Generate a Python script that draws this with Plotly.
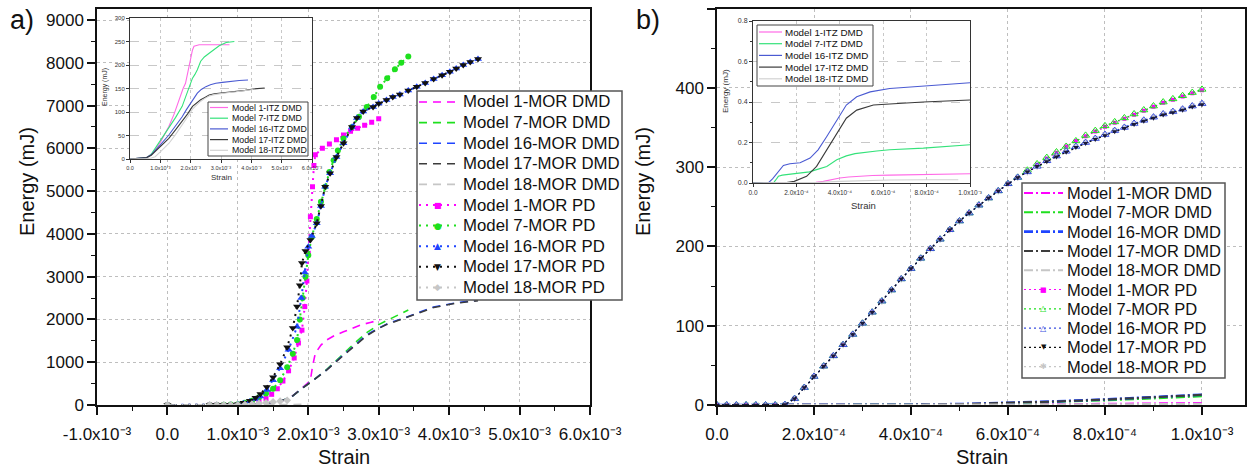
import plotly.graph_objects as go

W, H = 1253, 472
FONT = "Liberation Sans, Arial, sans-serif"
SYM_FONT = "DejaVu Sans"

# ================= DATA (strain in units of 1e-3, energy in mJ) =================
# ---- Panel a, MOR, DMD (dashed) ----
a_dmd_m1_s = [0.0, 0.5, 1.0, 1.2, 1.4, 1.6, 1.74, 1.88, 1.97, 2.03, 2.06, 2.1, 2.18, 2.26, 2.38, 2.5, 2.62, 2.74, 2.88, 3.02]
a_dmd_m1_e = [0, 0, 5, 15, 30, 80, 160, 350, 480, 580, 900, 1210, 1400, 1520, 1630, 1710, 1790, 1870, 1930, 1990]
a_dmd_m7_s = [0.0, 0.5, 1.0, 1.2, 1.4, 1.55, 1.74, 1.88, 2.07, 2.26, 2.45, 2.64, 2.83, 3.0, 3.11, 3.25, 3.42]
a_dmd_m7_e = [0, 0, 5, 15, 40, 80, 160, 350, 580, 830, 1120, 1420, 1690, 1880, 1970, 2090, 2220]
a_dmd_m16_s = [0.0, 0.5, 1.0, 1.2, 1.4, 1.55, 1.74, 1.88, 2.07, 2.26, 2.45, 2.64, 2.83, 3.0, 3.11, 3.4, 3.78, 4.1, 4.41]
a_dmd_m16_e = [0, 0, 5, 15, 40, 80, 160, 350, 580, 820, 1100, 1380, 1640, 1800, 1890, 2060, 2290, 2390, 2450]
a_dmd_m17_s = [0.0, 0.5, 1.0, 1.2, 1.4, 1.55, 1.74, 1.88, 2.07, 2.26, 2.45, 2.64, 2.83, 3.0, 3.11, 3.4, 3.78, 4.1, 4.41]
a_dmd_m17_e = [0, 0, 5, 15, 40, 80, 160, 350, 575, 815, 1090, 1360, 1620, 1790, 1880, 2050, 2280, 2380, 2440]
a_dmd_m18_s = [0.0, 0.5, 1.0, 1.4, 1.7, 2.0]
a_dmd_m18_e = [0, 0, 0, 5, 10, 20]

# ---- Panel a, MOR, PD (dotted + markers) ----
a_pd_m1_s = [0.0, 0.6, 0.7, 0.8, 0.9, 1.0, 1.1, 1.2, 1.3, 1.4, 1.48, 1.56, 1.64, 1.72, 1.8, 1.86, 1.91, 1.95, 1.98, 2.0,
             2.03, 2.06, 2.08, 2.1, 2.2, 2.3, 2.4, 2.5, 2.6, 2.7, 2.8, 2.9, 3.0]
a_pd_m1_e = [0, 0, 0, 0, 5, 10, 25, 50, 90, 150, 250, 380, 560, 800, 1100, 1450, 1750, 2300, 2900, 3550,
             4400, 5100, 5600, 5850, 6000, 6100, 6200, 6310, 6400, 6470, 6540, 6610, 6690]
a_pd_m7_s = [0.0, 0.6, 0.7, 0.8, 0.9, 1.0, 1.1, 1.2, 1.3, 1.4, 1.5, 1.6, 1.7, 1.78, 1.84, 1.88, 1.92, 1.96, 2.0, 2.05,
             2.12, 2.18, 2.24, 2.3, 2.36, 2.42, 2.5, 2.62, 2.72, 2.83, 2.93, 3.02, 3.12, 3.23, 3.32, 3.42]
a_pd_m7_e = [0, 0, 0, 5, 10, 20, 50, 100, 180, 270, 380, 580, 880, 1200, 1520, 2000, 2500, 3000, 3500, 3930,
             4350, 4750, 5100, 5450, 5720, 5950, 6230, 6500, 6740, 6970, 7200, 7440, 7640, 7850, 8000, 8150]
a_pd_m16_s = [0.0, 0.6, 0.7, 0.8, 0.9, 1.0, 1.08, 1.17, 1.25, 1.32, 1.41, 1.5, 1.6, 1.72, 1.84, 1.9, 1.95, 2.0, 2.05, 2.12,
              2.18, 2.24, 2.31, 2.4, 2.5, 2.62, 2.69, 2.78, 2.92, 3.0, 3.11, 3.2, 3.3, 3.42, 3.54, 3.66, 3.78, 3.9, 4.01, 4.1,
              4.2, 4.3, 4.41]
a_pd_m16_e = [0, 0, 0, 0, 5, 15, 40, 80, 140, 200, 350, 580, 860, 1290, 1830, 2500, 3100, 3700, 3950, 4250,
              4650, 5100, 5420, 5800, 6120, 6500, 6710, 6860, 6970, 7050, 7130, 7200, 7260, 7350, 7440, 7530, 7620, 7710, 7790, 7870,
              7950, 8020, 8090]
a_pd_m17_s = [0.0, 0.6, 0.7, 0.8, 0.9, 1.0, 1.08, 1.17, 1.25, 1.32, 1.41, 1.5, 1.6, 1.7, 1.78, 1.84, 1.88, 1.91, 1.96, 2.03,
              2.12, 2.18, 2.24, 2.31, 2.4, 2.5, 2.62, 2.69, 2.78, 2.92, 3.0, 3.11, 3.2, 3.3, 3.42, 3.54, 3.66, 3.78, 3.9, 4.01,
              4.1, 4.2, 4.3, 4.41]
a_pd_m17_e = [0, 0, 0, 0, 5, 20, 50, 100, 170, 260, 420, 650, 950, 1350, 1800, 2300, 2800, 3320, 3600, 3860,
              4250, 4650, 5100, 5420, 5800, 6120, 6500, 6710, 6860, 6970, 7050, 7130, 7200, 7260, 7350, 7440, 7530, 7620, 7710, 7790,
              7870, 7950, 8020, 8090]
a_pd_m18_s = [0.0, 0.6, 0.7, 0.8, 0.9, 1.0, 1.1, 1.2, 1.3, 1.4, 1.5, 1.6, 1.7]
a_pd_m18_e = [0, 0, 0, 0, 0, 5, 10, 20, 35, 50, 70, 90, 110]

# ---- Panel a inset: ITZ, DMD ----
ia_m1_s = [0, 0.3, 0.55, 0.7, 0.83, 1.0, 1.28, 1.45, 1.61, 1.75, 1.83, 1.94, 2.0, 2.06, 2.11, 2.2, 2.28, 2.6, 3.0, 3.28]
ia_m1_e = [0, 1, 3, 10, 19, 35, 69, 95, 126, 150, 161, 197, 215, 232, 240, 242, 243, 243, 243, 243]
ia_m7_s = [0, 0.3, 0.55, 0.7, 0.83, 1.0, 1.28, 1.5, 1.72, 1.85, 1.94, 2.0, 2.06, 2.14, 2.22, 2.33, 2.45, 2.61, 2.78, 2.94, 3.17, 3.44]
ia_m7_e = [0, 1, 3, 10, 23, 38, 65, 88, 112, 135, 154, 165, 172, 180, 190, 208, 217, 225, 234, 241, 248, 250]
ia_m16_s = [0, 0.3, 0.55, 0.7, 0.83, 1.0, 1.28, 1.5, 1.72, 1.86, 2.0, 2.1, 2.22, 2.35, 2.5, 2.65, 2.83, 3.05, 3.28, 3.6, 3.89]
ia_m16_e = [0, 1, 3, 9, 19, 30, 51, 70, 90, 105, 119, 130, 140, 148, 154, 158, 161, 163, 165, 167, 168]
ia_m17_s = [0, 0.3, 0.55, 0.7, 0.83, 1.0, 1.28, 1.5, 1.72, 1.9, 2.06, 2.2, 2.33, 2.47, 2.61, 2.78, 2.94, 3.2, 3.5, 3.8, 4.06, 4.25, 4.44]
ia_m17_e = [0, 1, 3, 8, 16, 26, 44, 62, 80, 96, 112, 120, 126, 131, 136, 139, 140, 142, 144, 146, 149, 150, 151]
ia_m18_s = [0, 0.3, 0.55, 0.7, 0.83, 1.0, 1.28, 1.5, 1.72, 1.9, 2.06, 2.2, 2.33, 2.47, 2.61, 2.78, 2.94, 3.2, 3.5, 3.8, 4.06]
ia_m18_e = [0, 0, 1, 2, 5, 15, 33, 52, 72, 90, 106, 116, 123, 129, 134, 137, 139, 141, 143, 145, 148]

# ---- Panel b, MOR, PD ----
b_pd_s = [0.00, 0.02, 0.04, 0.06, 0.08, 0.10, 0.12, 0.14, 0.16, 0.18, 0.20, 0.22, 0.24, 0.26, 0.28, 0.30, 0.32,
          0.34, 0.36, 0.38, 0.40, 0.42, 0.44, 0.46, 0.48, 0.50, 0.52, 0.54, 0.56, 0.58, 0.60, 0.62, 0.64, 0.66,
          0.68, 0.70, 0.72, 0.74, 0.76, 0.78, 0.80, 0.82, 0.84, 0.86, 0.88, 0.90, 0.92, 0.94, 0.96, 0.98, 1.00]
b_pd_m1_e = [0, 0, 0, 0, 0, 0, 0, 0.5, 8, 22, 36, 49, 62, 76, 89, 103, 117, 131, 145, 159, 172, 185, 197, 209, 221,
             232, 242, 252, 261, 270, 279, 287, 295, 303, 311, 318, 326, 333, 339, 345, 351, 356, 361, 366, 371, 376,
             381, 385, 389, 393, 397]
b_pd_m7_e = [0, 0, 0, 0, 0, 0, 0, 0.5, 8, 22, 36, 49, 62, 76, 89, 103, 117, 131, 145, 159, 172, 185, 197, 209, 221,
             232, 242, 252, 261, 270, 279, 287, 296, 304, 312, 319, 326, 333, 340, 346, 352, 357, 362, 367, 372, 377,
             382, 386, 390, 394, 398]
b_pd_m16_e = [0, 0, 0, 0, 0, 0, 0, 0.5, 8, 22, 36, 49, 62, 76, 89, 103, 117, 131, 145, 159, 172, 185, 197, 209, 221,
              232, 242, 252, 261, 270, 279, 287, 294, 301, 308, 314, 320, 326, 331, 336, 341, 346, 350, 355, 359, 363,
              367, 370, 373, 377, 380]
b_pd_m17_e = [0, 0, 0, 0, 0, 0, 0, 0.5, 8, 22, 36, 49, 62, 76, 89, 103, 117, 131, 145, 159, 172, 185, 197, 209, 221,
              232, 242, 252, 261, 270, 279, 287, 294, 301, 307, 313, 319, 325, 330, 335, 340, 345, 349, 354, 358, 362,
              366, 369, 372, 376, 379]
b_pd_m18_e = [0, 0, 0, 0, 0, 0, 0, 0.5, 8, 22, 36, 49, 62, 76, 89, 103, 117, 131, 145, 159, 172, 185, 197, 209, 221,
              232, 242, 252, 261, 270, 279, 287, 294, 301, 308, 314, 320, 326, 331, 336, 341, 346, 350, 355, 359, 363,
              367, 370, 373, 377, 380]

# ---- Panel b, MOR, DMD (dash-dot) ----
b_dmd_s = [0.0, 0.1, 0.2, 0.3, 0.4, 0.5, 0.6, 0.7, 0.8, 0.9, 1.0]
b_dmd_m1_e = [0, 0, 0, 0, 0.1, 0.3, 0.6, 1.0, 1.5, 2.0, 2.5]
b_dmd_m7_e = [0, 0, 0, 0.1, 0.3, 0.9, 2.0, 3.7, 5.8, 8.3, 11.0]
b_dmd_m16_e = [0, 0, 0, 0.1, 0.4, 1.2, 2.6, 4.6, 7.0, 10.0, 13.0]
b_dmd_m17_e = [0, 0, 0, 0.1, 0.4, 1.1, 2.5, 4.5, 6.9, 9.8, 12.8]
b_dmd_m18_e = [0, 0, 0, 0, 0.1, 0.2, 0.4, 0.6, 0.9, 1.2, 1.5]

# ---- Panel b inset: ITZ, DMD ----
ib_m1_s = [0, 0.2, 0.247, 0.29, 0.324, 0.36, 0.4, 0.44, 0.478, 0.55, 0.63, 0.785, 1.0]
ib_m1_e = [0, 0, 0, 0.003, 0.008, 0.016, 0.025, 0.03, 0.033, 0.037, 0.039, 0.041, 0.046]
ib_m7_s = [0, 0.094, 0.105, 0.117, 0.135, 0.155, 0.217, 0.26, 0.293, 0.34, 0.386, 0.43, 0.47, 0.51, 0.57, 0.63, 0.785, 1.0]
ib_m7_e = [0, 0, 0.015, 0.033, 0.039, 0.041, 0.049, 0.055, 0.066, 0.082, 0.115, 0.134, 0.145, 0.151, 0.158, 0.164, 0.172, 0.189]
ib_m16_s = [0, 0.07, 0.09, 0.11, 0.13, 0.14, 0.17, 0.217, 0.263, 0.3, 0.34, 0.386, 0.43, 0.478, 0.54, 0.63, 0.785, 1.0]
ib_m16_e = [0, 0, 0.02, 0.049, 0.078, 0.087, 0.095, 0.10, 0.123, 0.164, 0.23, 0.31, 0.385, 0.426, 0.45, 0.467, 0.48, 0.495]
ib_m17_s = [0, 0.14, 0.19, 0.247, 0.293, 0.34, 0.386, 0.43, 0.478, 0.555, 0.63, 0.785, 1.0]
ib_m17_e = [0, 0, 0.008, 0.033, 0.082, 0.164, 0.246, 0.32, 0.36, 0.385, 0.39, 0.40, 0.41]
ib_m18_s = [0, 0.2, 0.3, 0.4, 0.5, 0.63, 0.8, 0.946]
ib_m18_e = [0, 0, 0.003, 0.008, 0.012, 0.015, 0.016, 0.016]

# ---- tick labels ----
a_xtick_vals = [-1.0, 0.0, 1.0, 2.0, 3.0, 4.0, 5.0, 6.0]
a_xtick_text = ["-1.0x10⁻³", "0.0", "1.0x10⁻³", "2.0x10⁻³", "3.0x10⁻³", "4.0x10⁻³", "5.0x10⁻³", "6.0x10⁻³"]
ia_xtick_vals = [0.0, 1.0, 2.0, 3.0, 4.0, 5.0, 6.0]
ia_xtick_text = ["0.0", "1.0x10⁻³", "2.0x10⁻³", "3.0x10⁻³", "4.0x10⁻³", "5.0x10⁻³", "6.0x10⁻³"]
b_xtick_vals = [0.0, 0.2, 0.4, 0.6, 0.8, 1.0]
b_xtick_text = ["0.0", "2.0x10⁻⁴", "4.0x10⁻⁴", "6.0x10⁻⁴", "8.0x10⁻⁴", "1.0x10⁻³"]
ib_ytick_vals = [0.0, 0.2, 0.4, 0.6, 0.8]
ib_ytick_text = ["0.0", "0.2", "0.4", "0.6", "0.8"]

names_dmd = ["Model 1-MOR DMD", "Model 7-MOR DMD", "Model 16-MOR DMD", "Model 17-MOR DMD", "Model 18-MOR DMD"]
names_pd = ["Model 1-MOR PD", "Model 7-MOR PD", "Model 16-MOR PD", "Model 17-MOR PD", "Model 18-MOR PD"]
names_itz = ["Model 1-ITZ DMD", "Model 7-ITZ DMD", "Model 16-ITZ DMD", "Model 17-ITZ DMD", "Model 18-ITZ DMD"]

# ================= STYLE =================
MAG, GRN, BLU, BLK, DGR, LGR = "#FF00FF", "#1EE01E", "#1F45FF", "#111111", "#3C3C3C", "#C6C6C6"
ITZ_COL = ["#FF6AE6", "#34E27A", "#4A5AD2", "#3A3A3A", "#D2D2D2"]
SCALE = 1e-3


def sx(vals):
    return [v * SCALE for v in vals]


def fx(p):
    return p / W


def fy(p):
    return 1 - p / H


fig = go.Figure()


def add(xs, ys, xa, ya, color, width, dash="solid", marker=None):
    fig.add_trace(go.Scatter(
        x=sx(xs), y=ys, xaxis=xa, yaxis=ya,
        mode="lines+markers" if marker else "lines",
        line=dict(color=color, width=width, dash=dash),
        marker=marker, showlegend=False, hoverinfo="skip"))


# ---- panel a main ----
DASH_A = "8px,6px"
DOT = "2px,5px"
add(a_dmd_m1_s, a_dmd_m1_e, "x", "y", MAG, 1.6, DASH_A)
add(a_dmd_m7_s, a_dmd_m7_e, "x", "y", GRN, 1.6, DASH_A)
add(a_dmd_m16_s, a_dmd_m16_e, "x", "y", BLU, 1.6, DASH_A)
add(a_dmd_m17_s, a_dmd_m17_e, "x", "y", DGR, 1.6, DASH_A)
add(a_dmd_m18_s, a_dmd_m18_e, "x", "y", LGR, 1.6, DASH_A)
add(a_pd_m1_s, a_pd_m1_e, "x", "y", MAG, 2, DOT, dict(symbol="square", size=5, color=MAG))
add(a_pd_m7_s, a_pd_m7_e, "x", "y", GRN, 2, DOT, dict(symbol="circle", size=6, color=GRN))
add(a_pd_m16_s, a_pd_m16_e, "x", "y", BLU, 2, DOT, dict(symbol="triangle-up", size=7, color=BLU))
add(a_pd_m17_s, a_pd_m17_e, "x", "y", BLK, 2, DOT, dict(symbol="triangle-down", size=7, color=BLK))
add(a_pd_m18_s, a_pd_m18_e, "x", "y", LGR, 2, DOT, dict(symbol="diamond", size=6, color=LGR))

# ---- panel a inset ----
for s_, e_, c_ in zip([ia_m1_s, ia_m7_s, ia_m16_s, ia_m17_s, ia_m18_s],
                      [ia_m1_e, ia_m7_e, ia_m16_e, ia_m17_e, ia_m18_e], ITZ_COL):
    add(s_, e_, "x3", "y3", c_, 1.1)

# ---- panel b main ----
DASHDOT = "9px,3px,2px,3px"
add(b_dmd_s, b_dmd_m1_e, "x2", "y2", MAG, 2, DASHDOT)
add(b_dmd_s, b_dmd_m7_e, "x2", "y2", GRN, 2, DASHDOT)
add(b_dmd_s, b_dmd_m16_e, "x2", "y2", BLU, 2.6, DASHDOT)
add(b_dmd_s, b_dmd_m17_e, "x2", "y2", DGR, 2, DASHDOT)
add(b_dmd_s, b_dmd_m18_e, "x2", "y2", LGR, 2, DASHDOT)
add(b_pd_s, b_pd_m1_e, "x2", "y2", MAG, 1.2, "2px,3px", dict(symbol="square", size=4, color=MAG))
add(b_pd_s, b_pd_m7_e, "x2", "y2", GRN, 1.2, "2px,3px", dict(symbol="triangle-up-open", size=7, color=GRN, line=dict(width=1)))
add(b_pd_s, b_pd_m18_e, "x2", "y2", LGR, 1.2, "2px,3px", dict(symbol="asterisk-open", size=6, color=LGR, line=dict(width=1)))
add(b_pd_s, b_pd_m16_e, "x2", "y2", BLU, 1.2, "2px,3px", dict(symbol="triangle-up-open", size=7, color="#3A4FE0", line=dict(width=1)))
add(b_pd_s, b_pd_m17_e, "x2", "y2", BLK, 1.2, "2px,3px", dict(symbol="triangle-down", size=5, color="#1A1A3A"))

# ---- panel b inset ----
for s_, e_, c_ in zip([ib_m1_s, ib_m7_s, ib_m16_s, ib_m17_s, ib_m18_s],
                      [ib_m1_e, ib_m7_e, ib_m16_e, ib_m17_e, ib_m18_e], ITZ_COL):
    add(s_, e_, "x4", "y4", c_, 1.1)

# ================= AXES =================
TICKFONT = dict(family=FONT, size=17, color="#111")


def main_axis(**kw):
    d = dict(showline=True, linecolor="#111", linewidth=1.5, mirror=True, ticks="outside", ticklen=8,
             tickwidth=1.5, tickcolor="#111", showgrid=True, gridcolor="#BEBEBE", griddash="dot", gridwidth=1,
             zeroline=False, tickfont=TICKFONT, fixedrange=True, automargin=False)
    d.update(kw)
    return d


def overlay_axis(**kw):
    d = dict(showline=False, ticks="inside", ticklen=7, tickwidth=1.5, tickcolor="#111", showgrid=False,
             zeroline=False, showticklabels=False, fixedrange=True, automargin=False)
    d.update(kw)
    return d


def inset_axis(**kw):
    d = dict(showline=True, linecolor="#333", linewidth=1, mirror=True, ticks="outside", ticklen=3,
             tickwidth=0.8, tickcolor="#333", showgrid=True, gridcolor="#C8C8C8", gridwidth=0.8,
             zeroline=False, fixedrange=True, automargin=False)
    d.update(kw)
    return d


A_X = [fx(97), fx(590)]
B_X = [fx(717), fx(1245)]
M_Y = [fy(405), fy(8.5)]
IA_X = [fx(130), fx(312)]
IA_Y = [fy(159), fy(18)]
IB_X = [fx(753), fx(970)]
IB_Y = [fy(183), fy(21)]

A_XR = [-1e-3, 6e-3]
A_YR = [0, 9270]
B_XR = [0, 1.0887e-3]
B_YR = [0, 500]

minor_out = lambda dt: dict(ticks="outside", ticklen=4, tickwidth=1.2, tickcolor="#111", dtick=dt, tick0=0, showgrid=False)
minor_in = lambda dt: dict(ticks="inside", ticklen=4, tickwidth=1.2, tickcolor="#111", dtick=dt, tick0=0, showgrid=False)

fig.update_layout(
    xaxis=main_axis(domain=A_X, anchor="y", range=A_XR, tickmode="array", tickvals=sx(a_xtick_vals),
                    ticktext=a_xtick_text, minor=minor_out(0.5e-3), ticklabelstandoff=5),
    yaxis=main_axis(domain=M_Y, anchor="x", range=A_YR, tickmode="linear", tick0=0, dtick=1000,
                    minor=minor_out(500)),
    xaxis2=main_axis(domain=B_X, anchor="y2", range=B_XR, tickmode="array", tickvals=sx(b_xtick_vals),
                     ticktext=b_xtick_text, minor=minor_out(1e-4), ticklabelstandoff=5),
    yaxis2=main_axis(domain=M_Y, anchor="x2", range=B_YR, tickmode="linear", tick0=0, dtick=100,
                     minor=minor_out(50)),
    xaxis3=inset_axis(domain=IA_X, anchor="y3", range=[0, 6e-3], tickmode="array", tickvals=sx(ia_xtick_vals),
                      ticktext=ia_xtick_text, griddash="dot", tickfont=dict(family=FONT, size=5.5, color="#333")),
    yaxis3=inset_axis(domain=IA_Y, anchor="x3", range=[0, 300], tickmode="linear", tick0=0, dtick=50,
                      griddash="dash", tickfont=dict(family=FONT, size=6, color="#333")),
    xaxis4=inset_axis(domain=IB_X, anchor="y4", range=[0, 1e-3], tickmode="array", tickvals=sx(b_xtick_vals),
                      ticktext=b_xtick_text, griddash="dot", tickfont=dict(family=FONT, size=6.5, color="#333")),
    yaxis4=inset_axis(domain=IB_Y, anchor="x4", range=[0, 0.8], tickmode="array", tickvals=ib_ytick_vals,
                      ticktext=ib_ytick_text, griddash="dash", tickfont=dict(family=FONT, size=7, color="#333"),
                      minor=dict(ticks="outside", ticklen=2, dtick=0.1, tick0=0, tickcolor="#333", showgrid=False)),
    xaxis5=overlay_axis(overlaying="x", side="top", anchor="y", range=A_XR, tickmode="array",
                        tickvals=sx(a_xtick_vals), minor=minor_in(0.5e-3)),
    yaxis5=overlay_axis(overlaying="y", side="right", anchor="x", range=A_YR, tickmode="linear", tick0=0,
                        dtick=1000, minor=minor_in(500)),
    xaxis6=overlay_axis(overlaying="x2", side="top", anchor="y2", range=B_XR, tickmode="array",
                        tickvals=sx(b_xtick_vals), minor=minor_in(1e-4)),
    yaxis6=overlay_axis(overlaying="y2", side="right", anchor="x2", range=B_YR, tickmode="linear", tick0=0,
                        dtick=100, minor=minor_in(50)),
)

# ================= TEXT & LEGENDS =================
ann = []
shapes = []


def text(x, y, t, size, angle=0, color="#111", xanchor="center", family=FONT):
    ann.append(dict(x=fx(x), y=fy(y), xref="paper", yref="paper", text=t, showarrow=False, textangle=angle,
                    font=dict(family=family, size=size, color=color), xanchor=xanchor, yanchor="middle"))


text(22, 20, "a)", 27)
text(648, 20, "b)", 27)
text(27, 182, "Energy (mJ)", 20, -90)
text(643, 182, "Energy (mJ)", 20, -90)
text(344, 457, "Strain", 20)
text(982, 457, "Strain", 20)
text(105, 87, "Energy (mJ)", 7, -90, "#333")
text(221, 177, "Strain", 8, 0, "#333")
text(725, 91, "Energy (mJ)", 8, -90, "#333")
text(863, 206, "Strain", 9.5, 0, "#333")


def legend(box, y0, dy, sw, tx, fsize, entries, bw=1.5, bc="#555"):
    shapes.append(dict(type="rect", xref="paper", yref="paper", x0=fx(box[0]), x1=fx(box[2]),
                       y0=fy(box[1]), y1=fy(box[3]), fillcolor="white", line=dict(color=bc, width=bw),
                       layer="above"))
    for i, (name, col, dash, lw, glyph, gsize) in enumerate(entries):
        y = y0 + i * dy
        shapes.append(dict(type="line", xref="paper", yref="paper", x0=fx(sw[0]), x1=fx(sw[1]), y0=fy(y), y1=fy(y),
                           line=dict(color=col, width=lw, dash=dash), layer="above"))
        if glyph:
            text((sw[0] + sw[1]) / 2, y, glyph, gsize, 0, col, "center", SYM_FONT)
        text(tx, y, name, fsize, 0, "#111", "left")


cols5 = [MAG, GRN, BLU, DGR, LGR]
legend((417, 91, 622, 300), 102, 20.6, (419, 456), 461, 16.8,
       [(n, c, DASH_A, 1.6, None, 0) for n, c in zip(names_dmd, cols5)] +
       [(names_pd[0], MAG, DOT, 2, "■", 8), (names_pd[1], GRN, DOT, 2, "●", 9),
        (names_pd[2], BLU, DOT, 2, "▲", 9), (names_pd[3], BLK, DOT, 2, "▼", 9),
        (names_pd[4], LGR, DOT, 2, "◆", 9)])
legend((1022, 183, 1225, 378), 193, 19.3, (1024, 1063), 1065, 16.5,
       [(n, c, DASHDOT, 2.6 if c == BLU else 2, None, 0) for n, c in zip(names_dmd, cols5)] +
       [(names_pd[0], MAG, "2px,3px", 1.2, "■", 7), (names_pd[1], GRN, "2px,3px", 1.2, "△", 8),
        (names_pd[2], "#3A4FE0", "2px,3px", 1.2, "△", 8), (names_pd[3], BLK, "2px,3px", 1.2, "▼", 7),
        (names_pd[4], LGR, "2px,3px", 1.2, "✱", 8)])
legend((208, 102, 308, 156), 107.5, 10.7, (210, 228), 230, 8.8,
       [(n, c, "solid", 1.2, None, 0) for n, c in zip(names_itz, ITZ_COL)], bw=1, bc="#444")
legend((757, 25, 873, 86), 32, 11.7, (759, 782), 783, 9.8,
       [(n, c, "solid", 1.2, None, 0) for n, c in zip(names_itz, ITZ_COL)], bw=1, bc="#444")

fig.update_layout(
    width=W, height=H, margin=dict(l=0, r=0, t=0, b=0, pad=0, autoexpand=False),
    paper_bgcolor="white", plot_bgcolor="white",
    showlegend=False, hovermode=False,
    annotations=ann, shapes=shapes,
    font=dict(family=FONT, color="#111"),
)

fig.write_html("out.html")
